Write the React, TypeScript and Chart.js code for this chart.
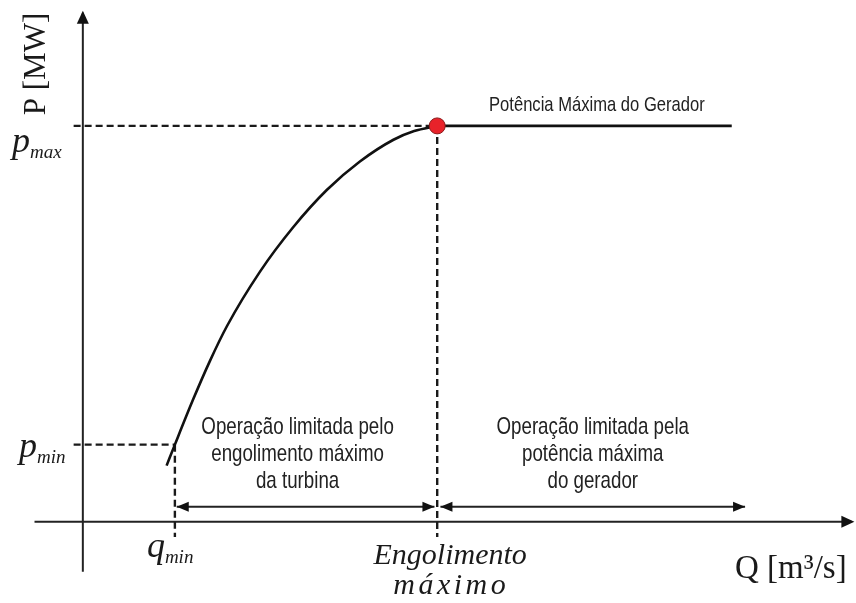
import React, { useEffect, useRef } from "react";
import { Chart, registerables } from "chart.js";

Chart.register(...registerables);

// Data space (Q on x, P on y)
const X_RANGE = [-18, 168];
const Y_RANGE = [-20.5, 131.8];

const Q_MIN = 20;
const Q_ENG = 77;
const Q_GEN_END = 141;
const P_MAX = 100;
const P_MIN = 19.5;

// turbine curve
const curveQ = [18.2, 20, 24, 27.6, 31.3, 38.5, 45.7, 53, 60.2, 67.5, 72, 77];
const curveP = [14.2, 19.5, 31.0, 40.6, 49.4, 63.2, 74.4, 83.8, 91.0, 96.5, 98.7, 100];

// axes extents
const xAxisQ = [-10.5, 167];
const yAxisP = [-12.6, 128.6];

// dashed guide extents
const guideStartQ = -2;
const guideBottomP = -3.8;

// double arrows
const arrowP = 3.8;
const arrowTurbine = [20.4, 76.4];
const arrowGenerator = [77.7, 143.9];

// texts
const turbineText = ["Operação limitada pelo", "engolimento máximo", "da turbina"];
const generatorText = ["Operação limitada pela", "potência máxima", "do gerador"];
const generatorLimitText = "Potência Máxima do Gerador";
const yAxisTitle = "P [MW]";
const xAxisTitle = "Q [m³/s]";
const engText = ["Engolimento", "máximo"];

const pts = (qs: number[], ps: number[]) => qs.map((q, i) => ({ x: q, y: ps[i] }));

const SANS = '"Liberation Sans", Arial, sans-serif';
const SERIF = '"Liberation Serif", "Times New Roman", serif';

function arrowHead(ctx: CanvasRenderingContext2D, x: number, y: number, dir: "l" | "r" | "u", len: number, half: number) {
  ctx.beginPath();
  if (dir === "r") {
    ctx.moveTo(x, y);
    ctx.lineTo(x - len, y - half);
    ctx.lineTo(x - len, y + half);
  } else if (dir === "l") {
    ctx.moveTo(x, y);
    ctx.lineTo(x + len, y - half);
    ctx.lineTo(x + len, y + half);
  } else {
    ctx.moveTo(x, y);
    ctx.lineTo(x - half, y + len);
    ctx.lineTo(x + half, y + len);
  }
  ctx.closePath();
  ctx.fill();
}

function narrowText(ctx: CanvasRenderingContext2D, text: string, cx: number, base: number, sx: number) {
  ctx.save();
  ctx.translate(cx, base);
  ctx.scale(sx, 1);
  ctx.fillText(text, 0, 0);
  ctx.restore();
}

const decorPlugin = {
  id: "decor",
  afterDatasetsDraw(chart: any) {
    const ctx: CanvasRenderingContext2D = chart.ctx;
    const xs = chart.scales.x;
    const ys = chart.scales.y;
    const X = (v: number) => xs.getPixelForValue(v);
    const Y = (v: number) => ys.getPixelForValue(v);
    ctx.save();
    ctx.fillStyle = "#111";
    // axis arrowheads
    arrowHead(ctx, X(xAxisQ[1]) + 3, Y(0), "r", 13, 6);
    arrowHead(ctx, X(0), Y(yAxisP[1]) - 2, "u", 13, 6);
    // double arrows
    const ay = Y(arrowP);
    arrowHead(ctx, X(arrowTurbine[0]), ay, "l", 12, 5);
    arrowHead(ctx, X(arrowTurbine[1]), ay, "r", 12, 5);
    arrowHead(ctx, X(arrowGenerator[0]), ay, "l", 12, 5);
    arrowHead(ctx, X(arrowGenerator[1]), ay, "r", 12, 5);

    // annotation texts (narrow sans)
    ctx.fillStyle = "#222";
    ctx.textAlign = "center";
    ctx.textBaseline = "alphabetic";
    ctx.font = `21px ${SANS}`;
    narrowText(ctx, generatorLimitText, X(111.7), Y(P_MAX) - 15, 0.79);
    ctx.font = `24px ${SANS}`;
    const tx1 = (X(arrowTurbine[0]) + X(arrowTurbine[1])) / 2 - 8;
    const tx2 = (X(arrowGenerator[0]) + X(arrowGenerator[1])) / 2;
    turbineText.forEach((t, i) => narrowText(ctx, t, tx1, Y(P_MIN) - 11 + i * 27, 0.78));
    generatorText.forEach((t, i) => narrowText(ctx, t, tx2, Y(P_MIN) - 11 + i * 27, 0.78));

    // serif labels
    ctx.fillStyle = "#1a1a1a";
    ctx.font = `italic 30px ${SERIF}`;
    ctx.fillText(engText[0], X(Q_ENG) + 13, Y(0) + 42);
    (ctx as any).letterSpacing = "3.5px";
    ctx.fillText(engText[1], X(Q_ENG) + 14, Y(0) + 72);
    (ctx as any).letterSpacing = "0px";
    ctx.font = `33px ${SERIF}`;
    ctx.textAlign = "left";
    ctx.fillText(xAxisTitle, 735, Y(0) + 56);

    // subscript labels
    const sub = (main: string, s: string, xLeft: number, base: number, mainSize: number, subSize: number) => {
      ctx.textAlign = "left";
      ctx.font = `italic ${mainSize}px ${SERIF}`;
      ctx.fillText(main, xLeft, base);
      const w = ctx.measureText(main).width;
      ctx.font = `italic ${subSize}px ${SERIF}`;
      ctx.fillText(s, xLeft + w, base + 6);
    };
    sub("p", "max", 12, Y(P_MAX) + 26, 36, 19);
    sub("p", "min", 19, Y(P_MIN) + 12, 36, 19);
    sub("q", "min", X(Q_MIN) - 28, Y(0) + 35, 36, 19);

    // P axis title rotated
    ctx.save();
    ctx.translate(45, 64);
    ctx.rotate(-Math.PI / 2);
    ctx.font = `31px ${SERIF}`;
    ctx.textAlign = "center";
    ctx.fillText(yAxisTitle, 0, 0);
    ctx.restore();

    ctx.restore();
  },
};

export default function App() {
  const ref = useRef<HTMLCanvasElement>(null);
  useEffect(() => {
    document.body.style.margin = "0";
    const dashed = { borderColor: "#1a1a1a", borderWidth: 2.4, borderDash: [7, 4], pointRadius: 0, fill: false };
    const solid = { borderColor: "#111", borderWidth: 2.6, pointRadius: 0, fill: false };
    const axis = { borderColor: "#222", borderWidth: 2, pointRadius: 0, fill: false };
    const chart = new Chart(ref.current!, {
      type: "scatter",
      data: {
        datasets: [
          {
            label: "max",
            data: [{ x: Q_ENG, y: P_MAX }],
            pointRadius: 8,
            pointHoverRadius: 8,
            backgroundColor: "#e8222a",
            borderColor: "#8a1a1a",
            borderWidth: 1,
            showLine: false,
          } as any,
          { label: "curve", data: pts(curveQ, curveP), showLine: true, cubicInterpolationMode: "monotone", ...solid },
          { label: "gen", data: [{ x: Q_ENG, y: P_MAX }, { x: Q_GEN_END, y: P_MAX }], showLine: true, ...solid },
          { label: "pmax", data: [{ x: guideStartQ, y: P_MAX }, { x: Q_ENG, y: P_MAX }], showLine: true, ...dashed },
          { label: "pmin", data: [{ x: guideStartQ, y: P_MIN }, { x: Q_MIN, y: P_MIN }], showLine: true, ...dashed },
          { label: "qmin", data: [{ x: Q_MIN, y: P_MIN }, { x: Q_MIN, y: guideBottomP }], showLine: true, ...dashed },
          { label: "qeng", data: [{ x: Q_ENG, y: P_MAX }, { x: Q_ENG, y: guideBottomP }], showLine: true, ...dashed },
          { label: "a1", data: [{ x: arrowTurbine[0], y: arrowP }, { x: arrowTurbine[1], y: arrowP }], showLine: true, ...axis },
          { label: "a2", data: [{ x: arrowGenerator[0], y: arrowP }, { x: arrowGenerator[1], y: arrowP }], showLine: true, ...axis },
          { label: "xaxis", data: [{ x: xAxisQ[0], y: 0 }, { x: xAxisQ[1], y: 0 }], showLine: true, ...axis },
          { label: "yaxis", data: [{ x: 0, y: yAxisP[0] }, { x: 0, y: yAxisP[1] }], showLine: true, ...axis },
        ] as any,
      },
      options: {
        animation: false,
        responsive: false,
        layout: { padding: 0, autoPadding: false },
        plugins: { legend: { display: false }, tooltip: { enabled: false } },
        scales: {
          x: { type: "linear", min: X_RANGE[0], max: X_RANGE[1], display: false },
          y: { type: "linear", min: Y_RANGE[0], max: Y_RANGE[1], display: false },
        },
        elements: { line: { borderCapStyle: "butt" } },
      } as any,
      plugins: [decorPlugin],
    });
    return () => chart.destroy();
  }, []);
  return (
    <div style={{ position: "fixed", left: 0, top: 0, width: 856, height: 603, background: "#fff" }}>
      <canvas ref={ref} width={856} height={603} />
    </div>
  );
}
